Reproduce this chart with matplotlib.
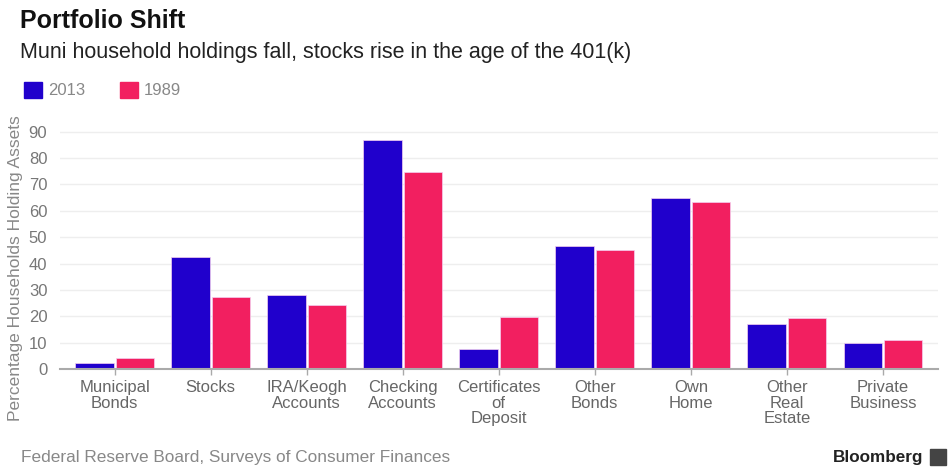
import numpy as np
import matplotlib.pyplot as plt
from matplotlib.patches import Patch

categories = ["Municipal\nBonds", "Stocks", "IRA/Keogh\nAccounts", "Checking\nAccounts",
              "Certificates\nof\nDeposit", "Other\nBonds", "Own\nHome", "Other\nReal\nEstate",
              "Private\nBusiness"]
vals_2013 = [2.2, 42.6, 28.2, 86.8, 7.7, 46.6, 64.7, 17.1, 10.0]
vals_1989 = [4.3, 27.2, 24.4, 74.8, 19.7, 45.1, 63.4, 19.2, 11.1]
yticks = [0, 10, 20, 30, 40, 50, 60, 70, 80, 90]

blue = "#2000cc"
pink = "#f21f60"
grey = "#666666"

plt.rcParams['font.family'] = ['Liberation Sans', 'DejaVu Sans']

fig = plt.figure(figsize=(9.5, 4.69), dpi=100)
ax = fig.add_axes([0.063, 0.2132, 0.924, 0.5173])

x = np.arange(len(categories))
w = 0.40
ax.bar(x - 0.21, vals_2013, w, color=blue, edgecolor="#f4d0f0", linewidth=0.5, zorder=3)
ax.bar(x + 0.21, vals_1989, w, color=pink, edgecolor="#f4d0f0", linewidth=0.5, zorder=3)

ax.set_xlim(-0.57, len(categories) - 1 + 0.57)
ax.set_ylim(0, 92)
ax.set_yticks(yticks)
ax.set_yticklabels([str(t) for t in yticks], color="#777777", fontsize=12)
ax.set_xticks(x)
ax.set_xticklabels(categories, color=grey, fontsize=12, linespacing=1.05)
ax.tick_params(axis="y", length=0, pad=9)
ax.tick_params(axis="x", length=4, color="#aaaaaa", width=1, pad=4)

ax.grid(axis="y", color="#eeeeee", linewidth=1, zorder=0)
for s in ["top", "right", "left"]:
    ax.spines[s].set_visible(False)
ax.spines["bottom"].set_color("#aaaaaa")
ax.spines["bottom"].set_linewidth(1.5)
ax.spines["bottom"].set_zorder(4)

fig.text(0.016, 0.429, "Percentage Households Holding Assets", rotation=90,
         color="#888888", fontsize=12.5, ha="center", va="center")

fig.text(0.021, 0.955, "Portfolio Shift", fontsize=18, fontweight="bold",
         color="#111111", va="center")
fig.text(0.021, 0.889, "Muni household holdings fall, stocks rise in the age of the 401(k)",
         fontsize=15.5, color="#222222", va="center")

handles = [Patch(color=blue, label="2013"), Patch(color=pink, label="1989")]
fig.legend(handles=handles, loc="center left", bbox_to_anchor=(0.009, 0.808), ncol=2,
           frameon=False, handlelength=1.1, handleheight=1.1, handletextpad=0.35,
           columnspacing=2.1, labelcolor="#888888", fontsize=12)

fig.text(0.022, 0.024, "Federal Reserve Board, Surveys of Consumer Finances",
         fontsize=12.4, color="#888888", va="center")
fig.text(0.972, 0.024, "Bloomberg", fontsize=12.3, fontweight="bold",
         color="#222222", va="center", ha="right")
fig.patches.append(plt.Rectangle((0.979, 0.008), 0.017, 0.034, transform=fig.transFigure,
                                 color="#444444", figure=fig))

fig.savefig("out.png", dpi=100)
